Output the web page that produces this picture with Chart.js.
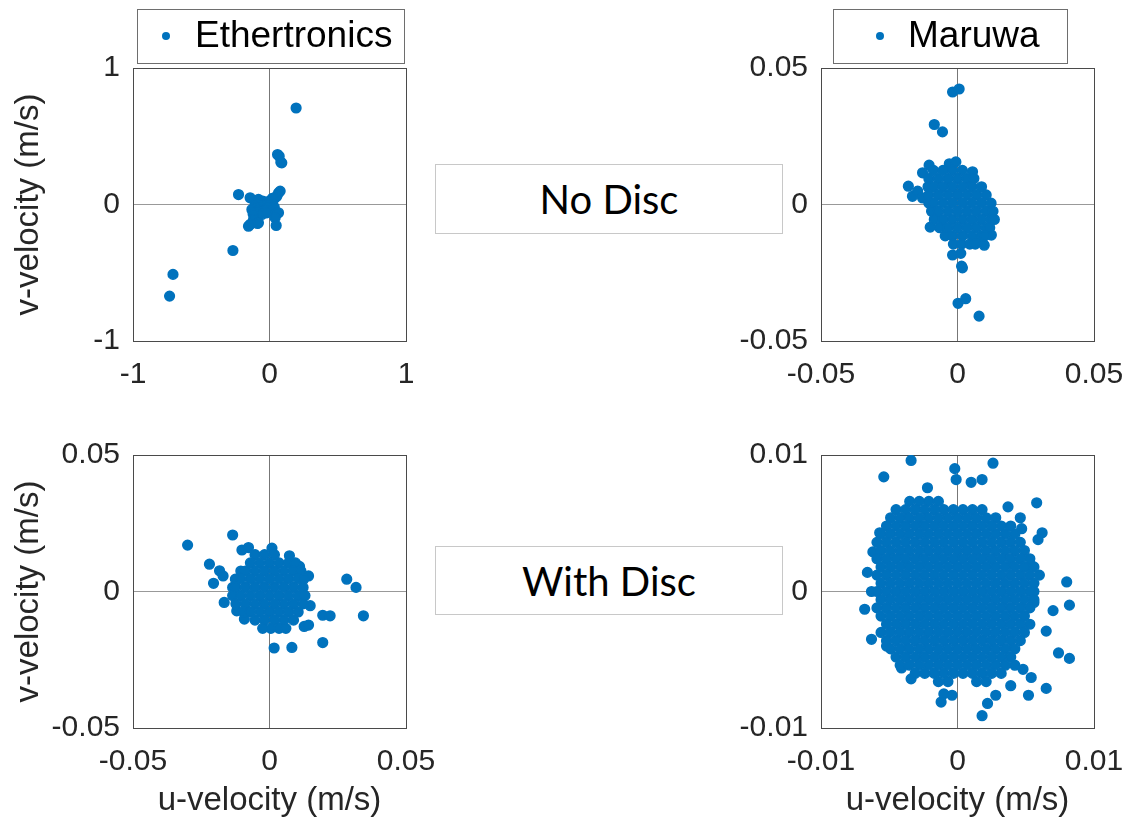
<!DOCTYPE html>
<html>
<head>
<meta charset="utf-8">
<script src="https://cdn.jsdelivr.net/npm/chart.js@4.4.0/dist/chart.umd.min.js"></script>
<style>
  body { margin: 0; background: #fff; }
  #page { position: relative; width: 1128px; height: 824px; overflow: hidden; background: #fff; }
  canvas { position: absolute; }
  .note {
    position: absolute; left: 435px; width: 348px; box-sizing: border-box;
    border: 1px solid #c8c8c8; background: #fff; color: #000;
    display: flex; align-items: center; justify-content: center;
    font: 40px Lato, "Open Sans", sans-serif;
  }
</style>
</head>
<body>
<div id="page">
  <canvas id="ethNo" width="440" height="410" style="left:0;top:0"></canvas>
  <canvas id="marNo" width="428" height="410" style="left:700px;top:0"></canvas>
  <canvas id="ethDisc" width="440" height="404" style="left:0;top:420px"></canvas>
  <canvas id="marDisc" width="428" height="404" style="left:700px;top:420px"></canvas>
  <div class="note" style="top:164px;height:70px">No Disc</div>
  <div class="note" style="top:546px;height:69px">With Disc</div>
</div>
<script>
/* ---- data (u, v in m/s) ---- */

const ticksWide = [-1, 0, 1];
const ticksMid = [-0.05, 0, 0.05];
const ticksNarrow = [-0.01, 0, 0.01];

// Ethertronics, no disc
const ethNoDisc = [
  [0.195, 0.707], [0.059, 0.366], [0.071, 0.354], [0.09, 0.305], [0.083, 0.31],
  [-0.227, 0.073], [0.078, 0.098], [0.066, 0.085], [0.054, 0.061], [0.04, 0.05],
  [-0.268, -0.337], [-0.707, -0.512], [-0.732, -0.671],
  [-0.142, 0.049], [-0.081, 0.037], [0.029, 0.037], [0.02, 0.045], [0.005, 0.017],
  [0.015, 0.01], [-0.02, 0.02], [-0.05, 0.025], [-0.068, 0.012], [-0.105, 0],
  [-0.032, 0], [-0.007, 0], [-0.044, -0.012], [-0.068, -0.012], [-0.105, -0.024],
  [-0.129, -0.037], [-0.044, -0.037], [-0.007, -0.024], [0.029, -0.037], [0.035, -0.02],
  [-0.09, -0.05], [-0.03, -0.045], [0.01, -0.05], [-0.056, -0.073], [-0.02, -0.061],
  [0.042, -0.073], [0.066, -0.061], [-0.12, -0.07], [-0.117, -0.11], [0.041, -0.098],
  [-0.081, -0.134], [-0.088, -0.139], [-0.142, -0.146], [-0.154, -0.159], [0.049, -0.154]
];

// Maruwa, no disc: stray points + the dense core (rows of [v, u values])
const marNoStray = [
  [-0.0018, 0.0412], [0.0006, 0.0423], [-0.0085, 0.0293], [-0.0055, 0.0266],
  [-0.0104, 0.0144], [-0.0128, 0.0116], [-0.003, 0.0149], [-0.0006, 0.0156], [0.0055, 0.012],
  [-0.018, 0.0067], [-0.0165, 0.003], [-0.0146, 0.0049], [-0.0128, 0.0024],
  [-0.01, -0.0083], [0.0124, -0.0112], [0.0098, -0.0149], [0.0067, -0.014],
  [-0.0018, -0.0185], [0.0012, -0.0179], [0.0015, -0.0226], [0.0018, -0.0232],
  [0.0002, -0.0362], [0.003, -0.0345], [0.0079, -0.0409]
];
const marNoCore = [
  [0.0125, [-0.0088, -0.0053, -0.0018, 0.0018]],
  [0.0095, [-0.0105, -0.007, -0.0035, 0, 0.0035, 0.006]],
  [0.0065, [-0.0108, -0.0088, -0.0053, -0.0018, 0.0018, 0.0053, 0.0088]],
  [0.0035, [-0.0105, -0.007, -0.0035, 0, 0.0035, 0.007, 0.0105]],
  [0.0005, [-0.0105, -0.0088, -0.0053, -0.0018, 0.0018, 0.0053, 0.0088, 0.0123]],
  [-0.0025, [-0.0095, -0.007, -0.0035, 0, 0.0035, 0.007, 0.0105, 0.013]],
  [-0.0055, [-0.0085, -0.0053, -0.0018, 0.0018, 0.0053, 0.0088, 0.0123, 0.0135]],
  [-0.0085, [-0.0065, -0.0035, 0, 0.0035, 0.007, 0.0105, 0.0118]],
  [-0.0115, [-0.0045, -0.0018, 0.0018, 0.0053, 0.0088, 0.01]],
  [-0.0145, [-0.0015, 0.0015, 0.0045, 0.0065]]
];

// Ethertronics, with disc
const ethDiscStray = [
  [-0.03, 0.017], [-0.0135, 0.0207], [-0.022, 0.01], [-0.0205, 0.003], [-0.0183, 0.0076],
  [-0.017, 0.0057], [-0.0101, 0.0152], [-0.0077, 0.0161], [0.0009, 0.0159], [0.0073, 0.0131],
  [0.011, 0.0092], [0.0143, 0.0057], [0.0283, 0.0045], [0.0317, 0.0015], [0.0344, -0.0089],
  [0.0195, -0.0087], [0.0222, -0.0089], [0.0127, -0.0128], [0.0143, -0.0123], [0.0195, -0.0187],
  [0.0017, -0.0207], [0.0082, -0.0205], [-0.0166, -0.004], [-0.012, -0.0071], [-0.0092, -0.0101],
  [0.0149, -0.0052]
];
const ethDiscCore = [
  [0.0135, [-0.0053, -0.0018, 0.0018]],
  [0.0105, [-0.007, -0.0035, 0, 0.0035, 0.007, 0.0095]],
  [0.0075, [-0.0105, -0.0088, -0.0053, -0.0018, 0.0018, 0.0053, 0.0088, 0.0115]],
  [0.0045, [-0.0125, -0.0105, -0.007, -0.0035, 0, 0.0035, 0.007, 0.0105, 0.0125]],
  [0.0015, [-0.0135, -0.0123, -0.0088, -0.0053, -0.0018, 0.0018, 0.0053, 0.0088, 0.0123]],
  [-0.0015, [-0.0135, -0.0105, -0.007, -0.0035, 0, 0.0035, 0.007, 0.0105, 0.013]],
  [-0.0045, [-0.0123, -0.0088, -0.0053, -0.0018, 0.0018, 0.0053, 0.0088, 0.0123]],
  [-0.0075, [-0.0095, -0.007, -0.0035, 0, 0.0035, 0.007, 0.0105]],
  [-0.0105, [-0.0053, -0.0018, 0.0018, 0.0053, 0.0088]],
  [-0.0135, [-0.0025, 0.0005, 0.0035, 0.006]]
];

// Maruwa, with disc
const marDiscStray = [
  [-0.0034, 0.0096], [-0.0054, 0.0084], [-0.0002, 0.009], [-0.0001, 0.0082], [0.0026, 0.0094],
  [0.0018, 0.0082], [0.001, 0.008], [-0.0022, 0.0076], [0.0058, 0.0065], [0.0037, 0.0062],
  [0.0046, 0.0054], [0.0047, 0.0046], [0.0062, 0.0043], [0.0059, 0.0038], [-0.0057, 0.0043],
  [-0.0062, 0.0029], [-0.0066, 0.0014], [-0.0063, 0], [-0.0068, -0.0013], [-0.0063, -0.0035],
  [0.008, 0.0007], [0.0082, -0.001], [0.007, -0.0014], [0.0074, -0.0045], [0.0082, -0.0049],
  [0.0065, -0.0029], [0.0065, -0.0071], [0.0052, -0.0076], [0.0018, -0.0091], [0.0022, -0.0082],
  [0.0028, -0.0076], [-0.0012, -0.0081], [-0.001, -0.0075], [-0.0004, -0.0076], [-0.0034, -0.0064],
  [-0.0041, -0.0056], [-0.0052, -0.004], [0.0054, 0.0019], [0.006, 0.0012], [0.0056, 0],
  [0.0056, -0.0008], [0.0039, -0.0069], [0.0048, -0.0057], [0.0054, -0.0063]
];
const marDiscCore = [
  [0.0066, [-0.0035, -0.0028, -0.0021, -0.0014]],
  [0.006, [-0.0045, -0.0038, -0.0031, -0.0024, -0.0017, -0.001, -0.0003, 0.0004, 0.0011, 0.0018]],
  [0.0054, [-0.0049, -0.0042, -0.0035, -0.0028, -0.0021, -0.0014, -0.0007, 0, 0.0007, 0.0014, 0.0021, 0.0028]],
  [0.0048, [-0.0052, -0.0045, -0.0038, -0.0031, -0.0024, -0.0017, -0.001, -0.0003, 0.0004, 0.0011, 0.0018, 0.0025, 0.0032, 0.0039]],
  [0.0042, [-0.0056, -0.0049, -0.0042, -0.0035, -0.0028, -0.0021, -0.0014, -0.0007, 0, 0.0007, 0.0014, 0.0021, 0.0028, 0.0035, 0.0042]],
  [0.0036, [-0.0059, -0.0052, -0.0045, -0.0038, -0.0031, -0.0024, -0.0017, -0.001, -0.0003, 0.0004, 0.0011, 0.0018, 0.0025, 0.0032, 0.0039, 0.0046]],
  [0.003, [-0.0056, -0.0049, -0.0042, -0.0035, -0.0028, -0.0021, -0.0014, -0.0007, 0, 0.0007, 0.0014, 0.0021, 0.0028, 0.0035, 0.0042, 0.0049]],
  [0.0024, [-0.0059, -0.0052, -0.0045, -0.0038, -0.0031, -0.0024, -0.0017, -0.001, -0.0003, 0.0004, 0.0011, 0.0018, 0.0025, 0.0032, 0.0039, 0.0046, 0.0053]],
  [0.0018, [-0.0056, -0.0049, -0.0042, -0.0035, -0.0028, -0.0021, -0.0014, -0.0007, 0, 0.0007, 0.0014, 0.0021, 0.0028, 0.0035, 0.0042, 0.0049, 0.0056]],
  [0.0012, [-0.0059, -0.0052, -0.0045, -0.0038, -0.0031, -0.0024, -0.0017, -0.001, -0.0003, 0.0004, 0.0011, 0.0018, 0.0025, 0.0032, 0.0039, 0.0046, 0.0053]],
  [0.0006, [-0.0056, -0.0049, -0.0042, -0.0035, -0.0028, -0.0021, -0.0014, -0.0007, 0, 0.0007, 0.0014, 0.0021, 0.0028, 0.0035, 0.0042, 0.0049, 0.0056]],
  [0, [-0.0059, -0.0052, -0.0045, -0.0038, -0.0031, -0.0024, -0.0017, -0.001, -0.0003, 0.0004, 0.0011, 0.0018, 0.0025, 0.0032, 0.0039, 0.0046, 0.0053]],
  [-0.0006, [-0.0056, -0.0049, -0.0042, -0.0035, -0.0028, -0.0021, -0.0014, -0.0007, 0, 0.0007, 0.0014, 0.0021, 0.0028, 0.0035, 0.0042, 0.0049, 0.0056]],
  [-0.0012, [-0.0059, -0.0052, -0.0045, -0.0038, -0.0031, -0.0024, -0.0017, -0.001, -0.0003, 0.0004, 0.0011, 0.0018, 0.0025, 0.0032, 0.0039, 0.0046, 0.0053]],
  [-0.0018, [-0.0056, -0.0049, -0.0042, -0.0035, -0.0028, -0.0021, -0.0014, -0.0007, 0, 0.0007, 0.0014, 0.0021, 0.0028, 0.0035, 0.0042, 0.0049]],
  [-0.0024, [-0.0052, -0.0045, -0.0038, -0.0031, -0.0024, -0.0017, -0.001, -0.0003, 0.0004, 0.0011, 0.0018, 0.0025, 0.0032, 0.0039, 0.0046, 0.0053]],
  [-0.003, [-0.0056, -0.0049, -0.0042, -0.0035, -0.0028, -0.0021, -0.0014, -0.0007, 0, 0.0007, 0.0014, 0.0021, 0.0028, 0.0035, 0.0042, 0.0049]],
  [-0.0036, [-0.0052, -0.0045, -0.0038, -0.0031, -0.0024, -0.0017, -0.001, -0.0003, 0.0004, 0.0011, 0.0018, 0.0025, 0.0032, 0.0039, 0.0046]],
  [-0.0042, [-0.0049, -0.0042, -0.0035, -0.0028, -0.0021, -0.0014, -0.0007, 0, 0.0007, 0.0014, 0.0021, 0.0028, 0.0035, 0.0042]],
  [-0.0048, [-0.0045, -0.0038, -0.0031, -0.0024, -0.0017, -0.001, -0.0003, 0.0004, 0.0011, 0.0018, 0.0025, 0.0032, 0.0039]],
  [-0.0054, [-0.0042, -0.0035, -0.0028, -0.0021, -0.0014, -0.0007, 0, 0.0007, 0.0014, 0.0021, 0.0028, 0.0035, 0.0042]],
  [-0.006, [-0.0031, -0.0024, -0.0017, -0.001, -0.0003, 0.0004, 0.0011, 0.0018, 0.0025, 0.0032]],
  [-0.0066, [-0.0014, -0.0007, 0.0014, 0.0021]]
];

/* ---- styling ---- */

const BLUE = "#0072BD";
const TEXT = "#262626";
const BOX = "#4a4a4a";
const FONT = '"Liberation Sans", Arial, sans-serif';

// core rows -> [u, v] pairs
const unrow = rows => rows.flatMap(([v, us]) => us.map(u => [u, v]));

// MATLAB-style boxed legend sitting above the axes
const boxLegend = {
  id: "boxLegend",
  afterDraw(chart, args, o) {
    const { ctx, chartArea } = chart;
    const ds = chart.data.datasets[0];
    const x0 = chartArea.left + o.dx;
    const y0 = chartArea.top - 59;
    const h = 54;
    ctx.save();
    ctx.fillStyle = "#fff";
    ctx.fillRect(x0, y0, o.w, h);
    ctx.strokeStyle = "#6e6e6e";
    ctx.lineWidth = 1;
    ctx.strokeRect(x0 + 0.5, y0 + 0.5, o.w, h);
    ctx.fillStyle = ds.backgroundColor;
    ctx.beginPath();
    ctx.arc(x0 + o.mx, y0 + h / 2, 4, 0, Math.PI * 2);
    ctx.fill();
    ctx.fillStyle = "#000";
    ctx.font = "37px " + FONT;
    ctx.textBaseline = "middle";
    ctx.fillText(ds.label, x0 + o.tx, y0 + h / 2 + 1);
    ctx.restore();
  }
};

function axis(lim, ticks, title, size, isX) {
  return {
    type: "linear",
    min: -lim,
    max: lim,
    afterBuildTicks: s => { s.ticks = ticks.map(v => ({ value: v })); },
    afterFit: s => {
      // fixed axis band, and no extra room for the end labels
      if (isX) { s.height = size; s.paddingLeft = 0; s.paddingRight = 0; }
      else { s.width = size; s.paddingTop = 0; s.paddingBottom = 0; }
    },
    ticks: {
      color: TEXT,
      font: { family: FONT, size: 30 },
      padding: isX ? 16 : 13,
      maxRotation: 0,
      autoSkip: false,
      callback: v => String(v)
    },
    grid: {
      drawTicks: false,
      lineWidth: 1,
      color: c => (c.tick && c.tick.value === 0) ? (isX ? "#777" : "#999") : BOX
    },
    border: { display: true, color: BOX },
    title: {
      display: !!title,
      text: title || "",
      color: TEXT,
      font: { family: FONT, size: 33 },
      padding: isX ? { top: 0, bottom: 3 } : { top: 9, bottom: 0 }
    }
  };
}

function panel(id, label, points, lim, ticks, o) {
  return new Chart(document.getElementById(id), {
    type: "scatter",
    data: {
      datasets: [{
        label: label,
        data: points,
        backgroundColor: BLUE,
        borderColor: BLUE,
        pointRadius: 4.8,
        pointBorderWidth: 1.6,
        pointHoverRadius: 4.8
      }]
    },
    options: {
      responsive: false,
      animation: false,
      devicePixelRatio: 1,
      layout: { padding: o.pad },
      plugins: {
        legend: { display: false },
        tooltip: { enabled: false },
        boxLegend: o.legend || false
      },
      scales: {
        x: axis(lim, ticks, o.xTitle, o.xH, true),
        y: axis(lim, ticks, o.yTitle, o.yW, false)
      }
    },
    plugins: [boxLegend]
  });
}

panel("ethNo", "Ethertronics", ethNoDisc, 1, ticksWide, {
  pad: { top: 68, right: 34, left: 0, bottom: 0 }, xH: 69, yW: 133,
  yTitle: "v-velocity (m/s)",
  legend: { dx: 4, w: 267, mx: 29, tx: 58 }
});

panel("marNo", "Maruwa", marNoStray.concat(unrow(marNoCore)), 0.05, ticksMid, {
  pad: { top: 68, right: 34, left: 0, bottom: 0 }, xH: 69, yW: 121,
  legend: { dx: 12, w: 234, mx: 47, tx: 75 }
});

panel("ethDisc", "Ethertronics", ethDiscStray.concat(unrow(ethDiscCore)), 0.05, ticksMid, {
  pad: { top: 35, right: 34, left: 0, bottom: 0 }, xH: 96, yW: 133,
  yTitle: "v-velocity (m/s)", xTitle: "u-velocity (m/s)"
});

panel("marDisc", "Maruwa", marDiscStray.concat(unrow(marDiscCore)), 0.01, ticksNarrow, {
  pad: { top: 35, right: 34, left: 0, bottom: 0 }, xH: 96, yW: 121,
  xTitle: "u-velocity (m/s)"
});
</script>
</body>
</html>
